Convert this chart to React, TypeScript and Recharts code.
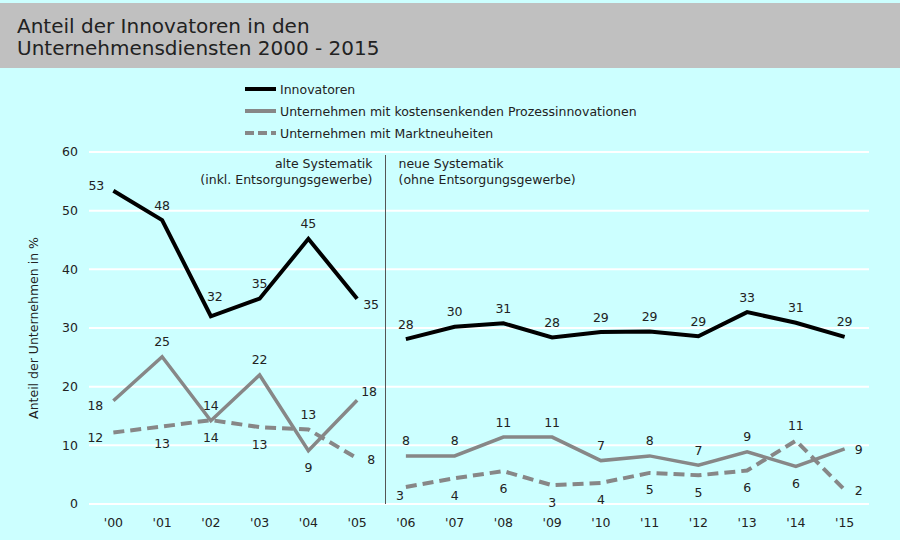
import React from 'react';
import { LineChart, Line, XAxis, YAxis, CartesianGrid, ReferenceLine, LabelList } from 'recharts';

const years = ["'00", "'01", "'02", "'03", "'04", "'05", "'06", "'07", "'08", "'09", "'10", "'11", "'12", "'13", "'14", "'15"];
const innovatoren = [53.4, 48.4, 32.0, 35.0, 45.2, 35.0, 28.1, 30.2, 30.8, 28.4, 29.3, 29.4, 28.6, 32.7, 30.9, 28.5];
const kostensenkend = [17.6, 25.1, 14.2, 22.0, 9.1, 17.7, 8.2, 8.2, 11.4, 11.4, 7.4, 8.2, 6.6, 8.9, 6.4, 9.4];
const marktneuheiten = [12.2, 13.2, 14.3, 13.1, 12.7, 7.8, 2.9, 4.4, 5.6, 3.2, 3.6, 5.3, 4.9, 5.7, 10.8, 2.4];
const seriesNames = ['Innovatoren', 'Unternehmen mit kostensenkenden Prozessinnovationen', 'Unternehmen mit Marktneuheiten'];
const yTicks = [0, 10, 20, 30, 40, 50, 60];
const lastOldYear = "'05"; // old classification ends here, the lines break after it

const breakIdx = years.indexOf(lastOldYear);
const data = years.map((year, i) => {
  const old = i <= breakIdx;
  return {
    year,
    innovA: old ? innovatoren[i] : null,
    innovB: old ? null : innovatoren[i],
    kostenA: old ? kostensenkend[i] : null,
    kostenB: old ? null : kostensenkend[i],
    marktA: old ? marktneuheiten[i] : null,
    marktB: old ? null : marktneuheiten[i],
  };
});

// where each value label sits relative to its point
const innovLabelPos = ['upleft', 'top', 'top2', 'top', 'top', 'downright', 'top', 'top', 'top', 'top', 'top', 'top', 'top', 'top', 'top', 'top'];
const kostenLabelPos = ['left', 'top', 'top', 'top', 'bottom', 'upright', 'top', 'top', 'top', 'top', 'top', 'top', 'top', 'top', 'bottom', 'right'];
const marktLabelPos = ['left', 'bottom', 'bottom', 'bottom', 'top', 'right', 'downleft', 'bottom', 'bottom', 'bottom', 'bottom', 'bottom', 'bottom', 'bottom', 'top', 'right'];

const offsets: Record<string, [number, number]> = {
  top: [0, -15],
  top2: [4, -20],
  bottom: [0, 17],
  left: [-18, 5],
  upleft: [-17, -5],
  right: [14, 1],
  upright: [12, -9],
  downright: [14, 6],
  downleft: [-6, 9],
};

const FONT = '"DejaVu Sans", Verdana, sans-serif';
const FS = 12.5;
const TEXT = '#222';
const GRAY = '#878787';
const SEP_SHIFT = 4;

const makeLabel = (pos: string[]) => (props: any) => {
  if (props.value == null) return null;
  const x = props.x ?? props.viewBox?.x;
  const y = props.y ?? props.viewBox?.y;
  if (x == null || y == null) return null;
  const [dx, dy] = offsets[pos[props.index]] ?? offsets.top;
  return (
    <text x={x + dx} y={y + dy} textAnchor="middle" dominantBaseline="central" fontSize={FS} fill={TEXT} fontFamily={FONT}>
      {Math.round(props.value)}
    </text>
  );
};

const LegendBox = () => (
  <div style={{ position: 'absolute', left: 244, top: 78, fontFamily: FONT, fontSize: FS, color: TEXT }}>
    {seriesNames.map((name, i) => (
      <div key={name} style={{ display: 'flex', alignItems: 'center', height: 22 }}>
        <svg width={36} height={10}>
          <line
            x1={1}
            y1={5}
            x2={32}
            y2={5}
            stroke={i === 0 ? '#000' : GRAY}
            strokeWidth={4}
            strokeDasharray={i === 2 ? '9 4' : undefined}
          />
        </svg>
        <span>{name}</span>
      </div>
    ))}
  </div>
);

const renderAnnotation = (props: any) => {
  const x = (props.viewBox?.x ?? 0) + SEP_SHIFT;
  const common = { fontSize: FS, fill: TEXT, fontFamily: FONT };
  return (
    <g>
      <text x={x - 13} y={168} textAnchor="end" {...common}>alte Systematik</text>
      <text x={x - 13} y={184} textAnchor="end" {...common}>(inkl. Entsorgungsgewerbe)</text>
      <text x={x + 13} y={168} textAnchor="start" {...common}>neue Systematik</text>
      <text x={x + 13} y={184} textAnchor="start" {...common}>(ohne Entsorgungsgewerbe)</text>
    </g>
  );
};

const separatorShape = (props: any) => {
  const bottom = Math.max(props.y1, props.y2);
  return <line x1={props.x1 + SEP_SHIFT} y1={155} x2={props.x2 + SEP_SHIFT} y2={bottom} stroke="#555" strokeWidth={1} />;
};

const renderYLabel = (props: any) => {
  const vb = props.viewBox;
  const cx = vb.x + 6;
  const cy = vb.y + vb.height / 2;
  return (
    <text x={cx} y={cy} transform={`rotate(-90, ${cx}, ${cy})`} textAnchor="middle" dominantBaseline="central" fontSize={FS} fill={TEXT} fontFamily={FONT}>
      Anteil der Unternehmen in %
    </text>
  );
};

const seriesLine = (key: string, name: string, color: string, width: number, pos: string[], dash?: string) => (
  <Line
    key={key}
    type="linear"
    dataKey={key}
    name={name}
    stroke={color}
    strokeWidth={width}
    strokeDasharray={dash}
    dot={false}
    connectNulls={false}
    isAnimationActive={false}
  >
    <LabelList dataKey={key} content={makeLabel(pos)} />
  </Line>
);

export default function App() {
  return (
    <div style={{ position: 'absolute', left: 0, top: 0, width: 900, height: 540, background: '#ccffff', overflow: 'hidden' }}>
      <div
        style={{
          position: 'absolute',
          left: 0,
          top: 3,
          width: 900,
          height: 65,
          background: '#c0c0c0',
        }}
      />
      <div
        style={{
          position: 'absolute',
          left: 17,
          top: 15,
          fontFamily: FONT,
          fontSize: 20,
          lineHeight: '22px',
          color: TEXT,
        }}
      >
        Anteil der Innovatoren in den
        <br />
        Unternehmensdiensten 2000 - 2015
      </div>
      <div style={{ position: 'absolute', left: 0, top: 0 }}>
        <LineChart width={900} height={540} data={data} margin={{ top: 152, right: 31, bottom: 6, left: 27 }}>
          <CartesianGrid vertical={false} stroke="#ffffff" strokeWidth={2} />
          <XAxis
            dataKey="year"
            scale="band"
            height={30}
            axisLine={false}
            tickLine={false}
            tickMargin={8}
            tick={{ fontSize: FS, fill: TEXT, fontFamily: FONT }}
          />
          <YAxis
            width={62}
            domain={[0, 60]}
            ticks={yTicks}
            axisLine={false}
            tickLine={false}
            tickMargin={5}
            tick={{ fontSize: FS, fill: TEXT, fontFamily: FONT }}
            label={{ content: renderYLabel }}
          />
          <ReferenceLine x={lastOldYear} position="end" shape={separatorShape} label={{ content: renderAnnotation }} />
          {seriesLine('innovA', seriesNames[0], '#000', 4, innovLabelPos)}
          {seriesLine('innovB', seriesNames[0], '#000', 4, innovLabelPos)}
          {seriesLine('kostenA', seriesNames[1], GRAY, 3.5, kostenLabelPos)}
          {seriesLine('kostenB', seriesNames[1], GRAY, 3.5, kostenLabelPos)}
          {seriesLine('marktA', seriesNames[2], GRAY, 4, marktLabelPos, '11 6')}
          {seriesLine('marktB', seriesNames[2], GRAY, 4, marktLabelPos, '11 6')}
        </LineChart>
      </div>
      <LegendBox />
    </div>
  );
}
